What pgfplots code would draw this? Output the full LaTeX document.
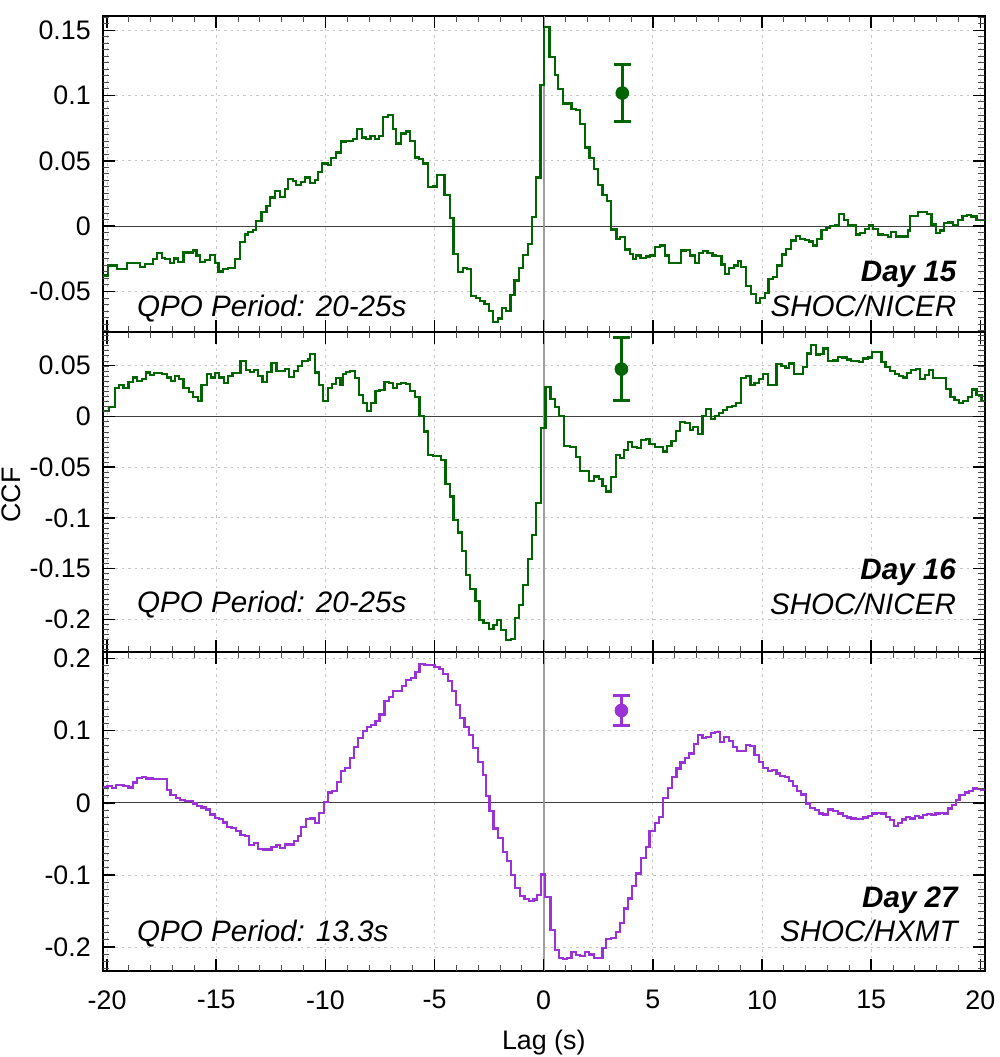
\documentclass[border=0pt]{standalone}
\usepackage{fontspec}
\setmainfont{Liberation Sans}
\usepackage{pgfplots}
\pgfplotsset{compat=1.18}
\definecolor{dgreen}{HTML}{006400}
\definecolor{dpurple}{HTML}{9A32D5}
\pgfplotsset{ccf/.style={
  scale only axis, width=441pt,
  xmin=-20.2, xmax=20.2,
  xtick={-25,-20,...,25},
  tick style={draw=none},
  axis line style={line width=1pt},
  grid=major,
  major grid style={gray!45, dash pattern=on 1.2pt off 2pt, line width=0.5pt},
  ticklabel style={font=\fontsize{13.4}{14}\selectfont},
  /pgf/number format/assume math mode=true,
  yticklabel style={inner sep=0pt, xshift=-5.8pt, /pgf/number format/fixed, /pgf/number format/precision=2},
  xticklabel style={inner sep=0pt, yshift=-9.5pt},
}}
\pgfplotsset{mnt/.style={black!70, line width=0.5pt, forget plot},
             mjt/.style={black, line width=0.75pt, forget plot}}
\tikzset{ann/.style={inner sep=0pt, font=\fontsize{14.8}{16}\selectfont\itshape},
         annb/.style={inner sep=0pt, font=\fontsize{14.8}{16}\selectfont\bfseries\itshape}}
\begin{document}
\begin{tikzpicture}
\path[use as bounding box] (0,0) rectangle (500pt,-528.5pt);
% ---------------- Day 15
\begin{axis}[ccf, at={(51.35pt,-166pt)}, anchor=south west, height=158pt,
  ymin=-0.081, ymax=0.161, ytick={-0.1,-0.05,0,0.05,0.1,0.15,0.2}, xticklabels={}]
\addplot[black!75, line width=0.5pt] coordinates {(-20.2,0) (20.2,0)};
\addplot[gray!75, line width=0.8pt] coordinates {(0,-0.081) (0,0.161)};
\addplot[dgreen, line width=1.1pt, const plot] coordinates {
(-20.2,-0.0377) (-19.94,-0.030) (-19.56,-0.0326) (-19.1,-0.028) (-18.5,-0.0313) (-18.26,-0.029)
(-17.88,-0.025) (-17.73,-0.0206) (-17.5,-0.0242) (-17.35,-0.025) (-17.12,-0.028) (-16.94,-0.0247)
(-16.74,-0.0275) (-16.5,-0.0201) (-16.05,-0.0186) (-15.9,-0.0224) (-15.75,-0.0275) (-15.52,-0.0257)
(-15.29,-0.0219) (-15.06,-0.028) (-14.9,-0.0346) (-14.68,-0.0326) (-14.45,-0.0321) (-14.15,-0.025)
(-13.92,-0.012) (-13.69,-0.0064) (-13.54,-0.0046) (-13.31,-0.0028) (-13.16,0.004) (-12.93,0.0107)
(-12.7,0.0153) (-12.52,0.022) (-12.32,0.027) (-12.09,0.0226) (-11.86,0.0285) (-11.71,0.0359)
(-11.48,0.0349) (-11.33,0.0318) (-11.1,0.0336) (-10.95,0.0374) (-10.72,0.0331) (-10.49,0.0354)
(-10.34,0.0417) (-10.14,0.048) (-9.88,0.047) (-9.73,0.052) (-9.5,0.0565) (-9.3,0.0649)
(-9.04,0.0654) (-8.73,0.067) (-8.54,0.0743) (-8.31,0.068) (-8.13,0.0667) (-7.93,0.069)
(-7.74,0.0667) (-7.55,0.069) (-7.36,0.0837) (-7.13,0.0852) (-6.9,0.0743) (-6.75,0.0634)
(-6.52,0.071) (-6.3,0.0725) (-6.11,0.0654) (-5.91,0.0527) (-5.72,0.0514) (-5.53,0.048)
(-5.3,0.0298) (-5.08,0.0305) (-4.89,0.039) (-4.54,0.0242) (-4.31,0.0064) (-4.13,-0.0211)
(-3.93,-0.0351) (-3.7,-0.032) (-3.52,-0.0326) (-3.32,-0.0537) (-3.09,-0.0547) (-2.91,-0.0573)
(-2.71,-0.0593) (-2.52,-0.0651) (-2.33,-0.0733) (-2.1,-0.0707) (-1.92,-0.0626) (-1.72,-0.0651)
(-1.52,-0.0524) (-1.34,-0.0415) (-1.14,-0.032) (-0.96,-0.0219) (-0.73,-0.0135) (-0.53,0.0069)
(-0.35,0.0374) (-0.15,0.108) (0.03,0.1527) (0.27,0.1295) (0.5,0.116) (0.66,0.1053)
(0.89,0.094) (1.27,0.0896) (1.47,0.0893) (1.68,0.0786) (1.88,0.0603) (2.1,0.052)
(2.29,0.0438) (2.49,0.0313) (2.69,0.0242) (2.9,0.0196) (3.1,-0.0025) (3.33,-0.0097)
(3.51,-0.0084) (3.71,-0.0178) (3.94,-0.021) (4.09,-0.025) (4.24,-0.0224) (4.43,-0.0242)
(4.67,-0.0232) (4.86,-0.0224) (5.08,-0.016) (5.31,-0.0148) (5.54,-0.0224) (5.74,-0.028)
(5.92,-0.0283) (6.3,-0.0186) (6.53,-0.018) (6.69,-0.0224) (6.92,-0.028) (7.11,-0.0204)
(7.3,-0.019) (7.5,-0.0204) (7.73,-0.0224) (7.9,-0.0226) (8.14,-0.0293) (8.29,-0.0364)
(8.49,-0.032) (8.72,-0.030) (8.9,-0.0267) (9.05,-0.0313) (9.28,-0.0458) (9.5,-0.0517)
(9.74,-0.0585) (9.9,-0.0547) (10.12,-0.0511) (10.3,-0.0402) (10.5,-0.039) (10.7,-0.030)
(10.93,-0.0216) (11.11,-0.0173) (11.34,-0.0109) (11.54,-0.0074) (11.73,-0.0097) (11.96,-0.0104)
(12.15,-0.0117) (12.34,-0.0148) (12.52,-0.0097) (12.72,-0.0028) (12.95,-0.0015) (13.13,0.0)
(13.33,0.0005) (13.53,0.0094) (13.74,0.0048) (13.94,0.0005) (14.29,-0.0064) (14.47,-0.0053)
(14.7,-0.002) (14.9,0.0005) (15.08,-0.002) (15.31,-0.0064) (15.54,-0.007) (15.77,-0.0084)
(15.92,-0.0046) (16.15,-0.0079) (16.46,-0.0079) (16.69,-0.0033) (16.79,0.0081) (17.15,0.0107)
(17.45,0.0112) (17.56,0.0094) (17.76,0.0013) (17.96,-0.0053) (18.14,-0.0033) (18.32,0.0025)
(18.52,0.0028) (18.75,0.001) (18.98,0.0048) (19.18,0.0081) (19.39,0.0086) (19.59,0.0074)
(19.82,0.005) (20.2,0.005)};
\addplot[dgreen, only marks, mark=*, mark size=3.2pt,
  error bars/.cd, y dir=both, y explicit,
  error bar style={line width=1.3pt},
  error mark options={rotate=90, mark size=4.2pt, line width=1.3pt}]
  coordinates {(3.6,0.102) +- (0,0.022)};
\pgfplotsinvokeforeach{-20,-19,...,20}{\addplot[mnt] coordinates {(#1,-0.081) (#1,-0.0761)}; \addplot[mnt] coordinates {(#1,0.161) (#1,0.1561)};}
\pgfplotsinvokeforeach{-20,-15,...,20}{\addplot[mjt] coordinates {(#1,-0.081) (#1,-0.0718)}; \addplot[mjt] coordinates {(#1,0.161) (#1,0.1518)};}
\pgfplotsinvokeforeach{-0.08,-0.075,...,0.162}{\addplot[mnt] coordinates {(-20.2,#1) (-19.907,#1)}; \addplot[mnt] coordinates {(20.2,#1) (19.907,#1)};}
\pgfplotsinvokeforeach{-0.05,0,0.05,0.1,0.15}{\addplot[mjt] coordinates {(-20.2,#1) (-19.65,#1)}; \addplot[mjt] coordinates {(20.2,#1) (19.65,#1)};}
\node[ann, anchor=base west] at (axis cs:-18.64,-0.0689) {QPO Period: 20-25s};
\node[annb, anchor=base east] at (axis cs:18.92,-0.042) {Day 15};
\node[ann, anchor=base east] at (axis cs:18.92,-0.0689) {SHOC/NICER};
\end{axis}
% ---------------- Day 16
\begin{axis}[ccf, at={(51.35pt,-326pt)}, anchor=south west, height=160pt,
  ymin=-0.232, ymax=0.083, ytick={-0.25,-0.2,-0.15,-0.1,-0.05,0,0.05,0.1}, xticklabels={}]
\addplot[black!75, line width=0.5pt] coordinates {(-20.2,0) (20.2,0)};
\addplot[gray!75, line width=0.8pt] coordinates {(0,-0.232) (0,0.083)};
\addplot[dgreen, line width=1.1pt, const plot] coordinates {
(-20.2,0.0056) (-19.9,0.0088) (-19.63,0.0275) (-19.44,0.031) (-19.25,0.0282) (-19.02,0.034)
(-18.83,0.0383) (-18.64,0.035) (-18.41,0.0364) (-18.23,0.0432) (-18.03,0.0406) (-17.85,0.043)
(-17.5,0.042) (-17.27,0.0383) (-17.07,0.0347) (-16.89,0.040) (-16.69,0.0364) (-16.5,0.0275)
(-16.23,0.0242) (-16.05,0.0187) (-15.85,0.0154) (-15.67,0.0308) (-15.44,0.0416) (-15.24,0.0383)
(-15.06,0.0429) (-14.86,0.0383) (-14.65,0.0331) (-14.45,0.0396) (-14.25,0.0429) (-13.89,0.0547)
(-13.64,0.0455) (-13.46,0.044) (-13.26,0.0455) (-13.08,0.0396) (-12.88,0.034) (-12.67,0.0439)
(-12.47,0.0527) (-12.24,0.0449) (-11.86,0.0462) (-11.68,0.039) (-11.45,0.0449) (-11.25,0.0495)
(-11.07,0.0547) (-10.79,0.056) (-10.69,0.061) (-10.49,0.0432) (-10.29,0.0308) (-10.11,0.0154)
(-9.88,0.0275) (-9.7,0.0318) (-9.5,0.0374) (-9.31,0.0308) (-9.2,0.0416) (-9.07,0.0439)
(-8.89,0.0449) (-8.66,0.0374) (-8.46,0.021) (-8.28,0.0128) (-8.09,0.0052) (-7.9,0.0128)
(-7.7,0.0252) (-7.52,0.0258) (-7.29,0.034) (-7.09,0.033) (-6.91,0.0275) (-6.71,0.0315)
(-6.52,0.0331) (-6.3,0.0315) (-6.11,0.0249) (-5.91,0.0193) (-5.69,0.0) (-5.5,-0.015)
(-5.3,-0.038) (-5.08,-0.039) (-4.7,-0.043) (-4.5,-0.0668) (-4.31,-0.079) (-4.13,-0.1019)
(-3.93,-0.1144) (-3.73,-0.1324) (-3.55,-0.156) (-3.37,-0.17) (-3.12,-0.182) (-2.94,-0.2002)
(-2.76,-0.2035) (-2.52,-0.2094) (-2.3,-0.2051) (-2.13,-0.2008) (-1.95,-0.21) (-1.72,-0.2199)
(-1.49,-0.2189) (-1.31,-0.1986) (-1.14,-0.1855) (-0.96,-0.1658) (-0.73,-0.1406) (-0.53,-0.1166)
(-0.35,-0.0855) (-0.12,-0.0118) (0.08,0.0292) (0.31,0.017) (0.5,0.0088) (0.7,0.0007)
(0.92,-0.029) (1.19,-0.030) (1.47,-0.0403) (1.68,-0.0537) (2.08,-0.0636) (2.29,-0.0593)
(2.52,-0.062) (2.69,-0.0682) (2.87,-0.074) (3.07,-0.06) (3.3,-0.038) (3.48,-0.0413)
(3.66,-0.033) (3.86,-0.0249) (4.06,-0.0305) (4.27,-0.031) (4.47,-0.0233) (4.67,-0.0226)
(4.85,-0.0275) (5.08,-0.0298) (5.47,-0.0347) (5.65,-0.0292) (5.85,-0.0239) (6.05,-0.0141)
(6.26,-0.0052) (6.46,-0.0062) (6.69,-0.0134) (6.84,-0.0102) (7.07,-0.0174) (7.27,0.0)
(7.45,0.0069) (7.65,-0.003) (7.83,0.0) (8.03,0.003) (8.21,0.0062) (8.4,0.0088)
(8.63,0.0102) (8.82,0.0134) (9.05,0.0374) (9.28,0.0396) (9.47,0.0308) (9.66,0.0331)
(9.86,0.0364) (10.05,0.0416) (10.27,0.0308) (10.47,0.031) (10.66,0.0514) (10.89,0.0495)
(11.08,0.0472) (11.24,0.0521) (11.45,0.0416) (11.65,0.042) (11.88,0.0488) (12.06,0.0619)
(12.26,0.0701) (12.46,0.0609) (12.64,0.061) (12.82,0.0668) (13.02,0.0547) (13.25,0.055)
(13.48,0.0587) (13.68,0.058) (13.89,0.056) (14.09,0.0547) (14.44,0.0531) (14.63,0.057)
(14.85,0.058) (15.05,0.0636) (15.31,0.063) (15.47,0.0537) (15.66,0.0482) (15.88,0.0449)
(16.08,0.0416) (16.27,0.0396) (16.46,0.0383) (16.64,0.0429) (16.84,0.0455) (17.04,0.0462)
(17.25,0.0364) (17.45,0.0406) (17.65,0.0455) (17.83,0.0374) (18.44,0.0269) (18.63,0.0187)
(18.82,0.016) (19.02,0.0134) (19.21,0.0154) (19.44,0.0193) (19.63,0.0265) (19.82,0.021)
(20.05,0.0154) (20.2,0.0154)};
\addplot[dgreen, only marks, mark=*, mark size=3.2pt,
  error bars/.cd, y dir=both, y explicit,
  error bar style={line width=1.3pt},
  error mark options={rotate=90, mark size=4.2pt, line width=1.3pt}]
  coordinates {(3.56,0.0465) +- (0,0.031)};
\pgfplotsinvokeforeach{-20,-19,...,20}{\addplot[mnt] coordinates {(#1,-0.232) (#1,-0.2257)}; \addplot[mnt] coordinates {(#1,0.083) (#1,0.0767)};}
\pgfplotsinvokeforeach{-20,-15,...,20}{\addplot[mjt] coordinates {(#1,-0.232) (#1,-0.2202)}; \addplot[mjt] coordinates {(#1,0.083) (#1,0.0712)};}
\pgfplotsinvokeforeach{-0.23,-0.225,...,0.082}{\addplot[mnt] coordinates {(-20.2,#1) (-19.907,#1)}; \addplot[mnt] coordinates {(20.2,#1) (19.907,#1)};}
\pgfplotsinvokeforeach{-0.2,-0.15,-0.1,-0.05,0,0.05}{\addplot[mjt] coordinates {(-20.2,#1) (-19.65,#1)}; \addplot[mjt] coordinates {(20.2,#1) (19.65,#1)};}
\node[ann, anchor=base west] at (axis cs:-18.64,-0.1934) {QPO Period: 20-25s};
\node[annb, anchor=base east] at (axis cs:18.9,-0.161) {Day 16};
\node[ann, anchor=base east] at (axis cs:18.9,-0.1954) {SHOC/NICER};
\end{axis}
% ---------------- Day 27
\begin{axis}[ccf, at={(51.35pt,-485.5pt)}, anchor=south west, height=159.5pt,
  ymin=-0.233, ymax=0.209, ytick={-0.3,-0.2,-0.1,0,0.1,0.2,0.3}]
\addplot[black!75, line width=0.5pt] coordinates {(-20.2,0) (20.2,0)};
\addplot[gray!75, line width=0.8pt] coordinates {(0,-0.233) (0,0.209)};
\addplot[dpurple, line width=1.1pt, const plot] coordinates {
(-20.2,0.0212) (-19.98,0.0235) (-19.79,0.021) (-19.59,0.0245) (-19.25,0.0235) (-19.02,0.0212)
(-18.83,0.0281) (-18.64,0.0346) (-18.41,0.036) (-18.22,0.0337) (-17.88,0.0332) (-17.5,0.0328)
(-17.27,0.0175) (-17.09,0.0106) (-16.84,0.0069) (-16.66,0.0037) (-16.43,0.0023) (-16.23,0.003)
(-16.05,-0.0009) (-15.87,-0.0042) (-15.67,-0.0065) (-15.47,-0.0092) (-15.29,-0.0161) (-15.06,-0.0208)
(-14.86,-0.0226) (-14.68,-0.0272) (-14.5,-0.0332) (-14.3,-0.0346) (-14.1,-0.0388) (-13.89,-0.0448)
(-13.69,-0.0457) (-13.49,-0.0586) (-13.28,-0.0554) (-13.08,-0.0641) (-12.85,-0.0646) (-12.62,-0.0646)
(-12.47,-0.0609) (-12.24,-0.0586) (-12.09,-0.0623) (-11.86,-0.0577) (-11.63,-0.0577) (-11.45,-0.0531)
(-11.25,-0.0457) (-11.1,-0.0332) (-10.87,-0.0226) (-10.69,-0.0217) (-10.49,-0.0277) (-10.29,-0.0138)
(-10.08,0.0014) (-9.88,0.0143) (-9.7,0.0161) (-9.47,0.0291) (-9.27,0.0438) (-9.09,0.0484)
(-8.89,0.0623) (-8.7,0.0775) (-8.51,0.09) (-8.28,0.0992) (-8.08,0.1052) (-7.9,0.1075)
(-7.7,0.113) (-7.52,0.1223) (-7.29,0.1407) (-7.09,0.1467) (-6.91,0.1546) (-6.48,0.1615)
(-6.3,0.1698) (-6.07,0.173) (-5.87,0.1813) (-5.69,0.1919) (-5.46,0.1905) (-5.0,0.1882)
(-4.77,0.186) (-4.62,0.179) (-4.39,0.1684) (-4.19,0.1546) (-4.01,0.1352) (-3.83,0.1176)
(-3.63,0.1052) (-3.43,0.0937) (-3.25,0.0761) (-3.02,0.0567) (-2.79,0.0383) (-2.64,0.0097)
(-2.48,-0.0115) (-2.3,-0.0355) (-2.1,-0.0484) (-1.88,-0.0678) (-1.69,-0.0807) (-1.49,-0.1001)
(-1.3,-0.1176) (-1.08,-0.1287) (-0.88,-0.1333) (-0.69,-0.1356) (-0.47,-0.134) (-0.32,-0.1278)
(-0.12,-0.0992) (0.05,-0.131) (0.31,-0.176) (0.5,-0.204) (0.7,-0.2145) (0.89,-0.2168)
(1.08,-0.2155) (1.27,-0.2062) (1.47,-0.2108) (1.68,-0.2117) (1.88,-0.2072) (2.08,-0.21)
(2.29,-0.2155) (2.49,-0.2145) (2.69,-0.2016) (2.87,-0.1887) (3.1,-0.1868) (3.3,-0.1795)
(3.48,-0.167) (3.68,-0.1463) (3.86,-0.1324) (4.06,-0.1149) (4.24,-0.0978) (4.47,-0.0761)
(4.67,-0.0609) (4.85,-0.0392) (5.08,-0.0277) (5.28,-0.0194) (5.47,0.0069) (5.69,0.0208)
(5.89,0.036) (6.08,0.0475) (6.27,0.0558) (6.46,0.0623) (6.66,0.0683) (6.87,0.0812)
(7.07,0.0937) (7.27,0.09) (7.45,0.0914) (7.65,0.0973) (7.83,0.098) (8.06,0.0844)
(8.26,0.0914) (8.49,0.0854) (8.67,0.0775) (8.85,0.0715) (9.25,0.0798) (9.44,0.079)
(9.66,0.066) (9.85,0.0567) (10.05,0.0484) (10.27,0.0443) (10.47,0.045) (10.66,0.0406)
(10.84,0.0374) (11.04,0.036) (11.24,0.030) (11.42,0.0235) (11.62,0.0166) (11.8,0.0115)
(12.03,-0.0009) (12.21,-0.0069) (12.41,-0.0102) (12.61,-0.0148) (12.79,-0.0161) (13.02,-0.0092)
(13.25,-0.0115) (13.48,-0.0148) (13.71,-0.018) (13.89,-0.0203) (14.09,-0.0217) (14.32,-0.0226)
(14.63,-0.0203) (14.85,-0.018) (15.05,-0.0148) (15.27,-0.014) (15.47,-0.0148) (15.69,-0.0194)
(15.88,-0.024) (16.03,-0.0318) (16.23,-0.0277) (16.43,-0.0231) (16.61,-0.0194) (16.79,-0.0217)
(16.99,-0.018) (17.19,-0.0203) (17.37,-0.0171) (17.56,-0.016) (17.76,-0.0171) (17.95,-0.0148)
(18.14,-0.014) (18.32,-0.0148) (18.52,-0.0078) (18.72,-0.0032) (18.9,0.0037) (19.05,0.0106)
(19.28,0.0143) (19.48,0.0166) (19.66,0.0198) (19.85,0.019) (20.05,0.0175) (20.2,0.0175)};
\addplot[dpurple, only marks, mark=*, mark size=3.2pt,
  error bars/.cd, y dir=both, y explicit,
  error bar style={line width=1.3pt},
  error mark options={rotate=90, mark size=4.2pt, line width=1.3pt}]
  coordinates {(3.56,0.128) +- (0,0.021)};
\pgfplotsinvokeforeach{-20,-19,...,20}{\addplot[mnt] coordinates {(#1,-0.233) (#1,-0.2241)}; \addplot[mnt] coordinates {(#1,0.209) (#1,0.2001)};}
\pgfplotsinvokeforeach{-20,-15,...,20}{\addplot[mjt] coordinates {(#1,-0.233) (#1,-0.2164)}; \addplot[mjt] coordinates {(#1,0.209) (#1,0.1924)};}
\pgfplotsinvokeforeach{-0.23,-0.22,...,0.205}{\addplot[mnt] coordinates {(-20.2,#1) (-19.907,#1)}; \addplot[mnt] coordinates {(20.2,#1) (19.907,#1)};}
\pgfplotsinvokeforeach{-0.2,-0.1,0,0.1,0.2}{\addplot[mjt] coordinates {(-20.2,#1) (-19.65,#1)}; \addplot[mjt] coordinates {(20.2,#1) (19.65,#1)};}
\node[ann, anchor=base west] at (axis cs:-18.64,-0.1924) {QPO Period: 13.3s};
\node[annb, anchor=base east] at (axis cs:18.98,-0.1453) {Day 27};
\node[ann, anchor=base east] at (axis cs:18.98,-0.1924) {SHOC/HXMT};
\end{axis}
\node[rotate=90, inner sep=0pt, font=\fontsize{13.4}{14}\selectfont] at (5.6pt,-247.5pt) {CCF};
\node[anchor=base, inner sep=0pt, font=\fontsize{13.4}{14}\selectfont] at (271.9pt,-524.5pt) {Lag (s)};
\end{tikzpicture}
\end{document}
